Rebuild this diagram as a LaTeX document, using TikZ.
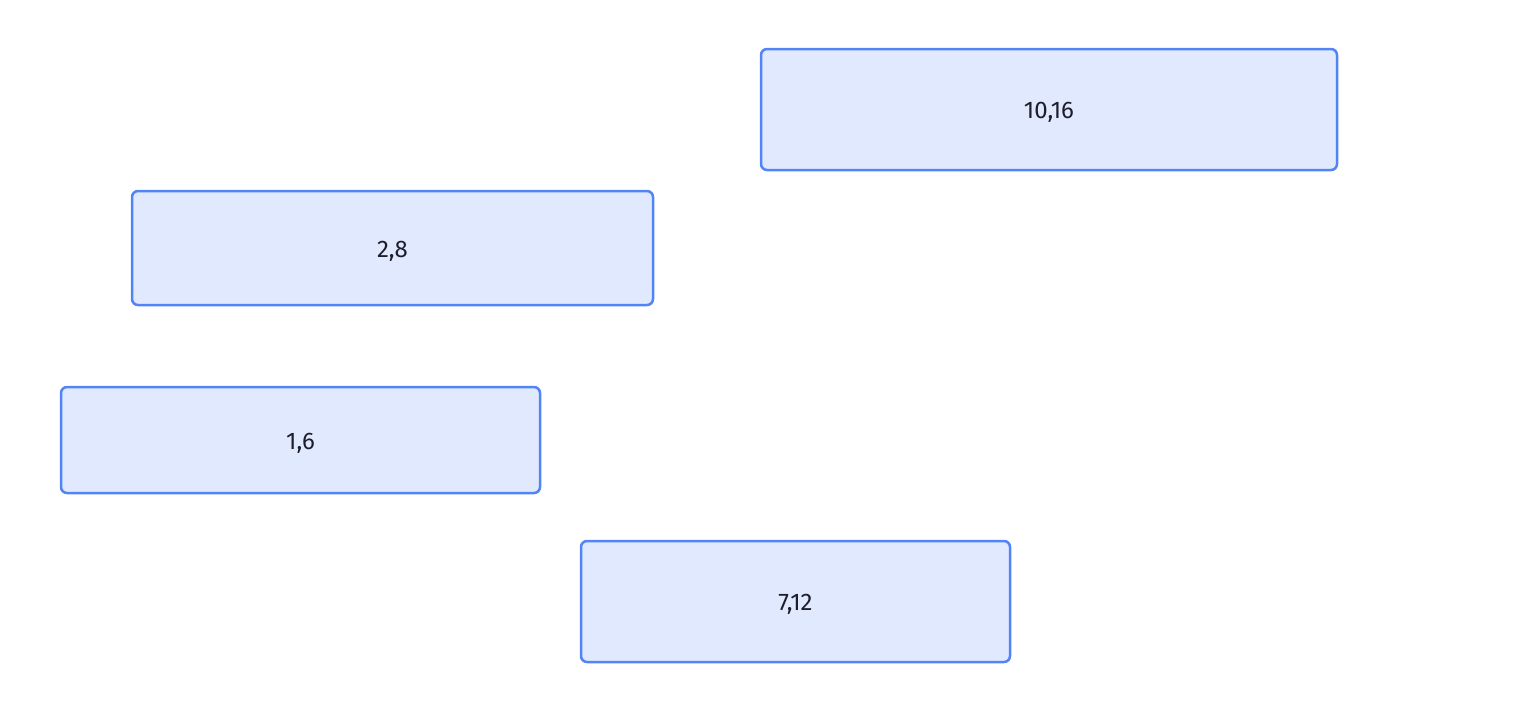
\documentclass[tikz,border=0pt]{standalone}
\usepackage{fontspec}
\setmainfont{Fira Sans}
\begin{document}
\begin{tikzpicture}[x=1pt,y=-1pt]
\definecolor{boxfill}{HTML}{E0E9FD}
\definecolor{boxline}{HTML}{5284F5}
\definecolor{txt}{HTML}{1E1E2A}
\tikzset{
  boxstyle/.style={draw=boxline, fill=boxfill, line width=2.5pt, rounded corners=6pt},
  lbl/.style={text=txt, font=\fontsize{24}{28}\selectfont, inner sep=0pt, anchor=base}
}
\useasboundingbox (0,0) rectangle (1539,718);
\draw[boxstyle] (761,49) rectangle (1337,170);
\node[lbl] (a) at (1049,118) {10,16};
\draw[boxstyle] (132,191) rectangle (653,305);
\node[lbl] (b) at (392.5,257) {2,8};
\draw[boxstyle] (61,387) rectangle (540,493);
\node[lbl] (c) at (300.5,449) {1,6};
\draw[boxstyle] (581,541) rectangle (1010,662);
\node[lbl] (d) at (795.5,610) {7,12};
\end{tikzpicture}
\end{document}
